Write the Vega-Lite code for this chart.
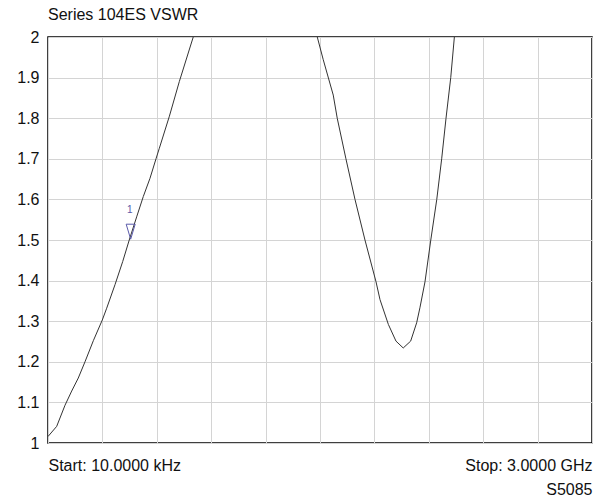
{
  "$schema": "https://vega.github.io/schema/vega-lite/v6.json",
  "autosize": {"type": "none"},
  "width": 544,
  "height": 406,
  "padding": {"left": 48, "top": 37, "right": 10, "bottom": 59},
  "background": "white",
  "title": {"text": "Series 104ES VSWR", "anchor": "start", "frame": "group", "fontSize": 16, "fontWeight": "normal", "font": "Liberation Sans", "color": "#111111", "offset": 6},
  "config": {
    "view": {"stroke": "#000000", "strokeWidth": 1.5},
    "font": "Liberation Sans",
    "axis": {"gridColor": "#d4d4d4", "gridWidth": 1, "gridOpacity": 1, "ticks": false, "domain": false, "labelFont": "Liberation Sans", "labelFontSize": 16, "labelColor": "#111111"}
  },
  "datasets": {
    "trace": [
      {"f": 0.01, "v": 1.016, "seg": "a"},
      {"f": 48, "v": 1.041, "seg": "a"},
      {"f": 93.8, "v": 1.093, "seg": "a"},
      {"f": 130.7, "v": 1.128, "seg": "a"},
      {"f": 167, "v": 1.16, "seg": "a"},
      {"f": 204, "v": 1.2, "seg": "a"},
      {"f": 250, "v": 1.252, "seg": "a"},
      {"f": 299.5, "v": 1.303, "seg": "a"},
      {"f": 323.7, "v": 1.332, "seg": "a"},
      {"f": 369.5, "v": 1.39, "seg": "a"},
      {"f": 412, "v": 1.447, "seg": "a"},
      {"f": 448, "v": 1.5, "seg": "a"},
      {"f": 489, "v": 1.557, "seg": "a"},
      {"f": 525.5, "v": 1.607, "seg": "a"},
      {"f": 562.5, "v": 1.652, "seg": "a"},
      {"f": 595.6, "v": 1.7, "seg": "a"},
      {"f": 614, "v": 1.726, "seg": "a"},
      {"f": 669.5, "v": 1.805, "seg": "a"},
      {"f": 724, "v": 1.89, "seg": "a"},
      {"f": 801, "v": 2.0, "seg": "a"},
      {"f": 1485, "v": 2.0, "seg": "b"},
      {"f": 1518, "v": 1.944, "seg": "b"},
      {"f": 1573, "v": 1.857, "seg": "b"},
      {"f": 1595, "v": 1.8, "seg": "b"},
      {"f": 1643, "v": 1.7, "seg": "b"},
      {"f": 1693, "v": 1.6, "seg": "b"},
      {"f": 1748, "v": 1.5, "seg": "b"},
      {"f": 1809, "v": 1.397, "seg": "b"},
      {"f": 1831, "v": 1.353, "seg": "b"},
      {"f": 1877, "v": 1.292, "seg": "b"},
      {"f": 1919, "v": 1.251, "seg": "b"},
      {"f": 1959, "v": 1.234, "seg": "b"},
      {"f": 2000, "v": 1.251, "seg": "b"},
      {"f": 2033, "v": 1.296, "seg": "b"},
      {"f": 2051, "v": 1.333, "seg": "b"},
      {"f": 2079, "v": 1.397, "seg": "b"},
      {"f": 2111, "v": 1.5, "seg": "b"},
      {"f": 2144, "v": 1.6, "seg": "b"},
      {"f": 2171, "v": 1.7, "seg": "b"},
      {"f": 2195, "v": 1.8, "seg": "b"},
      {"f": 2221, "v": 1.9, "seg": "b"},
      {"f": 2241, "v": 2.0, "seg": "b"}
    ],
    "marker": [{"f": 456, "v": 1.502, "label": "1"}]
  },
  "layer": [
    {
      "data": {"name": "trace"},
      "mark": {"type": "line", "stroke": "#333333", "strokeWidth": 1, "clip": true},
      "encoding": {
        "x": {"field": "f", "type": "quantitative",
              "scale": {"domain": [0.01, 3000], "nice": false, "zero": false},
              "axis": {"values": [0.01, 300, 600, 900, 1200, 1500, 1800, 2100, 2400, 2700, 3000],
                       "labelExpr": "datum.value < 1 ? 'Start: 10.0000 kHz' : (datum.value >= 3000 ? 'Stop: 3.0000 GHz' : '')",
                       "labelFlush": true, "labelOverlap": false, "labelPadding": 14,
                       "title": "S5085", "titleAnchor": "end", "titleFontSize": 16, "titleFontWeight": "normal", "titleColor": "#111111", "titlePadding": 8, "titleFont": "Liberation Sans"}},
        "y": {"field": "v", "type": "quantitative",
              "scale": {"domain": [1, 2], "nice": false, "zero": false},
              "axis": {"values": [1, 1.1, 1.2, 1.3, 1.4, 1.5, 1.6, 1.7, 1.8, 1.9, 2], "format": ".1~f", "labelPadding": 9, "title": null}},
        "detail": {"field": "seg"}
      }
    },
    {
      "data": {"name": "marker"},
      "mark": {"type": "point", "shape": "M-0.6,-2L0.6,-2L0,0Z", "size": 225, "filled": false, "stroke": "#5a5aaa", "strokeWidth": 1, "opacity": 1},
      "encoding": {
        "x": {"field": "f", "type": "quantitative"},
        "y": {"field": "v", "type": "quantitative"}
      }
    },
    {
      "data": {"name": "marker"},
      "mark": {"type": "text", "fontSize": 10, "color": "#5a5aaa", "dy": -29, "dx": -1, "font": "Liberation Sans"},
      "encoding": {
        "x": {"field": "f", "type": "quantitative"},
        "y": {"field": "v", "type": "quantitative"},
        "text": {"field": "label"}
      }
    }
  ]
}
